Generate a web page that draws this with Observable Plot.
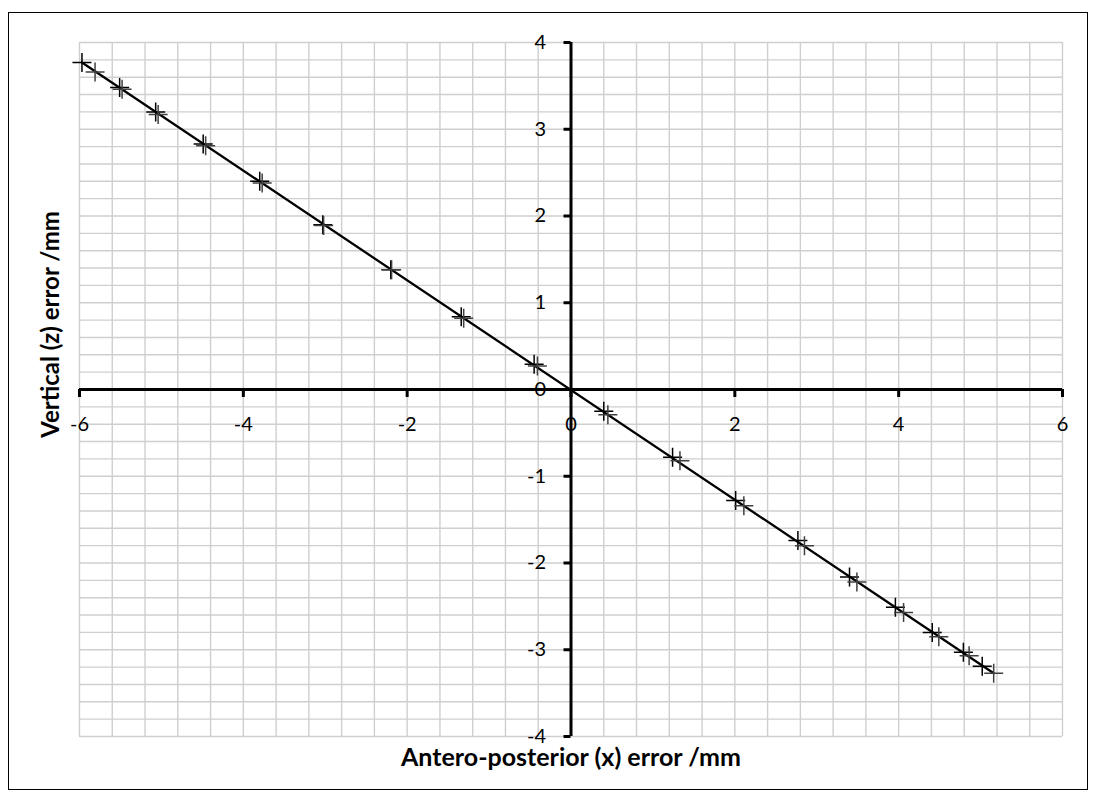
<!DOCTYPE html>
<html>
<head>
<meta charset="utf-8">
<script src="https://cdn.jsdelivr.net/npm/d3@7"></script>
<script src="https://cdn.jsdelivr.net/npm/@observablehq/plot@0.6"></script>
<style>
  html, body { margin: 0; padding: 0; background: #fff; }
  #wrap { position: relative; width: 1096px; height: 801px; overflow: hidden; }
  #border { position: absolute; left: 8px; top: 12px; width: 1078px; height: 776px; border: 1.5px solid #000; pointer-events: none; }
  #chart { position: absolute; left: 0; top: 0; }
</style>
</head>
<body>
<div id="wrap">
  <div id="chart"></div>
  <div id="border"></div>
</div>
<script>
// Measured positional errors, two repeated runs (x = antero-posterior, z = vertical), in mm
const runAx = [-5.97, -5.51, -5.07, -4.49, -3.80, -3.03, -2.20, -1.34, -0.45, 0.40, 1.24, 2.01, 2.77, 3.40, 3.96, 4.41, 4.79, 5.02];
const runAz = [3.77, 3.48, 3.20, 2.83, 2.40, 1.90, 1.38, 0.84, 0.29, -0.25, -0.78, -1.28, -1.74, -2.16, -2.51, -2.80, -3.03, -3.19];
const runBx = [-5.81, -5.48, -5.04, -4.46, -3.77, -3.02, -2.19, -1.31, -0.41, 0.45, 1.33, 2.11, 2.85, 3.49, 4.06, 4.49, 4.86, 5.16];
const runBz = [3.66, 3.46, 3.17, 2.81, 2.38, 1.89, 1.38, 0.82, 0.27, -0.29, -0.82, -1.34, -1.80, -2.22, -2.57, -2.85, -3.07, -3.27];

// Straight line through the measured extent
const fitX = [-5.97, 5.16];
const fitZ = [3.77, -3.27];

// Axis ticks and gridlines
const xMajor = [-6, -4, -2, 0, 2, 4, 6];
const yMajor = [-4, -3, -2, -1, 0, 1, 2, 3, 4];
const xGrid = d3.range(0, 31).map(i => -6 + i * 0.4);
const yGrid = d3.range(0, 41).map(i => -4 + i * 0.2);

const ptsA = runAx.map((x, i) => ({x, z: runAz[i]}));
const ptsB = runBx.map((x, i) => ({x, z: runBz[i]}));
const fit = fitX.map((x, i) => ({x, z: fitZ[i]}));

// Thin "+" marker drawn as two strokes
const cross = {
  draw(context, size) {
    const r = Math.sqrt(size / Math.PI);
    context.moveTo(-r, 0); context.lineTo(r, 0);
    context.moveTo(0, -r); context.lineTo(0, r);
  }
};

const font = "Lato, 'Open Sans', sans-serif";

const chart = Plot.plot({
  width: 1096,
  height: 801,
  marginTop: 42,
  marginBottom: 65,
  marginLeft: 79,
  marginRight: 34,
  style: {fontFamily: font, background: "transparent"},
  x: {domain: [-6, 6], axis: null},
  y: {domain: [-4, 4], axis: null},
  marks: [
    Plot.ruleX(xGrid, {stroke: "#cfcfcf", strokeWidth: 1.4}),
    Plot.ruleY(yGrid, {stroke: "#cfcfcf", strokeWidth: 1.4}),
    // axes through the origin
    Plot.ruleY([0], {stroke: "#000", strokeWidth: 3}),
    Plot.ruleX([0], {stroke: "#000", strokeWidth: 3}),
    // major ticks
    Plot.ruleX(xMajor, {y1: 0, y2: 0, insetBottom: -8, stroke: "#000", strokeWidth: 3}),
    Plot.ruleY(yMajor, {x1: 0, x2: 0, insetLeft: -7, stroke: "#000", strokeWidth: 3}),
    // tick labels
    Plot.text(xMajor, {x: d => d, y: 0, dy: 35, text: d => String(d), fontSize: 20, fill: "#000", textAnchor: "middle"}),
    Plot.text(yMajor, {x: 0, y: d => d, dx: -25, text: d => String(d), fontSize: 20, fill: "#000", textAnchor: "end"}),
    // trend line and measurements
    Plot.line(fit, {x: "x", y: "z", stroke: "#000", strokeWidth: 2.3}),
    Plot.dot(ptsA, {x: "x", y: "z", symbol: cross, r: 9.5, stroke: "#000", strokeWidth: 1.5, fill: "none"}),
    Plot.dot(ptsB, {x: "x", y: "z", symbol: cross, r: 9.5, stroke: "#404040", strokeWidth: 1.5, fill: "none"}),
    // axis titles
    Plot.text(["Antero-posterior (x) error /mm"], {frameAnchor: "bottom", dy: 29, text: d => d, fontSize: 25, fontWeight: "bold", fill: "#000", textAnchor: "middle"}),
    Plot.text(["Vertical (z) error /mm"], {frameAnchor: "left", dx: -28, dy: -65, rotate: -90, text: d => d, fontSize: 24, fontWeight: "bold", fill: "#000", textAnchor: "middle"})
  ]
});

document.getElementById("chart").appendChild(chart);
</script>
</body>
</html>
